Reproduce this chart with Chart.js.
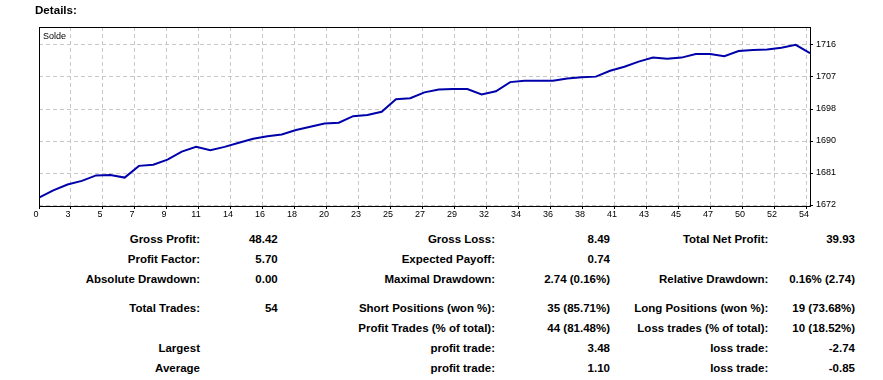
<!DOCTYPE html>
<html><head><meta charset="utf-8">
<script src="https://cdn.jsdelivr.net/npm/chart.js@4"></script>
<style>
html,body{margin:0;padding:0;background:#fff;width:883px;height:380px;overflow:hidden;position:relative;font-family:"Liberation Sans",Arial,sans-serif;color:#000}
#c{position:absolute;left:0;top:0}
.t{position:absolute;font-weight:bold;font-size:11.5px;line-height:14px;white-space:nowrap}
</style></head><body>
<canvas id="c" width="883" height="222"></canvas>
<div class="t" style="left:35px;top:3px;font-size:11.6px">Details:</div>
<div style="position:absolute;left:43px;top:29.5px;font-size:9px;line-height:12px">Solde</div>
<div id="stats"></div>
<script>
const trades = [0,1,2,3,4,5,6,7,8,9,10,11,12,13,14,15,16,17,18,19,20,21,22,23,24,25,26,27,28,29,30,31,32,33,34,35,36,37,38,39,40,41,42,43,44,45,46,47,48,49,50,51,52,53,54];
const balance = [1674.5,1676.5,1678.1,1679.1,1680.6,1680.7,1680.0,1683.2,1683.5,1684.9,
                 1687.1,1688.4,1687.5,1688.4,1689.5,1690.6,1691.3,1691.8,1693.0,1693.9,
                 1694.8,1695.0,1696.8,1697.1,1698.0,1701.4,1701.7,1703.3,1704.1,1704.2,
                 1704.2,1702.7,1703.6,1706.1,1706.5,1706.5,1706.5,1707.1,1707.4,1707.6,
                 1709.2,1710.3,1711.7,1712.8,1712.5,1712.8,1713.8,1713.8,1713.2,1714.6,
                 1714.9,1715.0,1715.5,1716.3,1714.0];
const xTickLabels = ['0','3','5','7','9','11','14','16','18','20','23','25','27','29','32','34','36','38','41','43','45','47','50','52','54'];
const yTickValues = [1672.5,1681.25,1690,1698.75,1707.5,1716.25];
const yTickLabels = ['1672','1681','1690','1698','1707','1716'];

const statLabels1 = ['Gross Profit:','Profit Factor:','Absolute Drawdown:','Total Trades:','','Largest','Average'];
const statValues1 = ['48.42','5.70','0.00','54','','',''];
const statLabels2 = ['Gross Loss:','Expected Payoff:','Maximal Drawdown:','Short Positions (won %):','Profit Trades (% of total):','profit trade:','profit trade:'];
const statValues2 = ['8.49','0.74','2.74 (0.16%)','35 (85.71%)','44 (81.48%)','3.48','1.10'];
const statLabels3 = ['Total Net Profit:','','Relative Drawdown:','Long Positions (won %):','Loss trades (% of total):','loss trade:','loss trade:'];
const statValues3 = ['39.93','','0.16% (2.74)','19 (73.68%)','10 (18.52%)','-2.74','-0.85'];

// table layout
const rowCenters = [239.2,259.2,279.2,308.2,328.2,348.2,368.2];
const colRights = [200,277.7,495,610,768.3,855];
const cols = [statLabels1,statValues1,statLabels2,statValues2,statLabels3,statValues3];
const stats = document.getElementById('stats');
cols.forEach((col,ci)=>{
  col.forEach((txt,ri)=>{
    if(!txt) return;
    const d=document.createElement('div');
    d.className='t';
    d.textContent=txt;
    d.style.right=(883-colRights[ci])+'px';
    d.style.top=(rowCenters[ri]-7)+'px';
    stats.appendChild(d);
  });
});

const frame = {id:'frame', afterDraw(chart){
  const a=chart.chartArea, ctx=chart.ctx;
  ctx.save(); ctx.strokeStyle='#000'; ctx.lineWidth=1;
  ctx.strokeRect(Math.round(a.left)+0.5, Math.round(a.top)+0.5, Math.round(a.right)-Math.round(a.left), Math.round(a.bottom)-Math.round(a.top));
  ctx.restore();
}};

const xGridStep = 2.2412;
new Chart(document.getElementById('c'), {
  type:'line',
  data:{labels:trades, datasets:[{label:'Solde', data:trades.map((t,i)=>({x:t,y:balance[i]})),
    borderColor:'#0000aa', borderWidth:2, pointRadius:0, tension:0, fill:false}]},
  options:{
    responsive:false, animation:false, devicePixelRatio:1,
    layout:{padding:{left:39,top:27,right:0,bottom:0}},
    plugins:{legend:{display:false}, tooltip:{enabled:false}},
    scales:{
      x:{type:'linear', min:0, max:54,
        afterBuildTicks:s=>{s.ticks=xTickLabels.map((_,k)=>({value:k*xGridStep}));},
        afterFit:s=>{s.height=16;},
        ticks:{autoSkip:false, maxRotation:0, padding:0, labelOffset:-3, color:'#000',
          font:{family:'Liberation Sans', size:9}, callback:(v,i)=>xTickLabels[i]},
        grid:{color:'#c8c8c8', tickColor:'#000', tickLength:3, tickBorderDash:[]},
        border:{display:false, dash:[4,3]}
      },
      y:{type:'linear', position:'right', min:1672.23, max:1721.17,
        afterBuildTicks:s=>{s.ticks=yTickValues.map(v=>({value:v}));},
        afterFit:s=>{s.width=73;},
        ticks:{autoSkip:false, padding:3, color:'#000',
          font:{family:'Liberation Sans', size:9}, callback:(v,i)=>yTickLabels[i]},
        grid:{color:'#c8c8c8', tickColor:'#000', tickLength:3, tickBorderDash:[]},
        border:{display:false, dash:[4,3]}
      }
    }
  },
  plugins:[frame]
});
</script>
</body></html>
